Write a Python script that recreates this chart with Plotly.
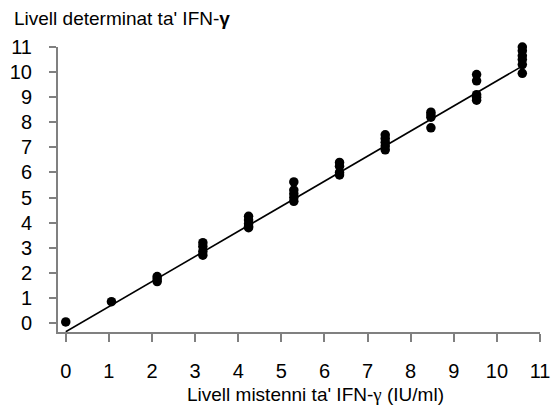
import plotly.graph_objects as go

expected_levels = [0.0, 1.06, 2.12, 3.18, 4.24, 5.29, 6.35, 7.41, 8.47, 9.53, 10.59]
measured_values = [
    [0.04],
    [0.85],
    [1.85, 1.75, 1.65],
    [3.2, 3.05, 2.85, 2.7],
    [4.25, 4.1, 3.95, 3.85, 3.8],
    [5.62, 5.3, 5.15, 5.0, 4.85],
    [6.4, 6.25, 6.0, 5.9],
    [7.5, 7.35, 7.2, 7.05, 6.9],
    [8.4, 8.3, 8.2, 7.78],
    [9.9, 9.65, 9.1, 9.0, 8.88],
    [11.0, 10.85, 10.65, 10.5, 10.3, 9.95],
]
fit_x = [0.0, 10.55]
fit_y = [-0.35, 10.2]

x_ticks = list(range(0, 12))
y_ticks = list(range(0, 12))

xs, ys = [], []
for lvl, vals in zip(expected_levels, measured_values):
    for v in vals:
        xs.append(lvl)
        ys.append(v)

FONT = "Liberation Sans, Arial, sans-serif"
AX = "#808080"

fig = go.Figure()
fig.add_trace(go.Scatter(x=fit_x, y=fit_y, mode="lines",
                         line=dict(color="black", width=1.6),
                         showlegend=False, hoverinfo="skip", cliponaxis=False))
fig.add_trace(go.Scatter(x=xs, y=ys, mode="markers",
                         marker=dict(color="black", size=9.5, line=dict(width=0)),
                         showlegend=False, cliponaxis=False))

fig.update_layout(
    width=560, height=410,
    margin=dict(l=53, r=10, t=47, b=78),
    paper_bgcolor="white", plot_bgcolor="white",
    font=dict(family=FONT, color="black", size=20),
    xaxis=dict(range=[-0.18, 11], tickvals=x_ticks, ticktext=[str(t) for t in x_ticks],
               showgrid=False, zeroline=False, showline=True, linecolor=AX, linewidth=2,
               ticks="outside", ticklen=8, tickwidth=2, tickcolor=AX,
               tickfont=dict(size=20, family=FONT), ticklabelstandoff=12,
               ticklabeloverflow="allow"),
    yaxis=dict(range=[-0.36, 11], tickvals=y_ticks, ticktext=[str(t) for t in y_ticks],
               showgrid=False, zeroline=False, showline=True, linecolor=AX, linewidth=2,
               ticks="outside", ticklen=7, tickwidth=2, tickcolor=AX,
               tickfont=dict(size=20, family=FONT), ticklabelstandoff=13,
               ticklabeloverflow="allow"),
    annotations=[
        dict(text="Livell determinat ta' IFN-<b>γ</b>", xref="paper", yref="paper",
             x=(6 - 53) / 497, y=1 + (47 - 6) / 285, xanchor="left", yanchor="top",
             showarrow=False, font=dict(size=19, family=FONT)),
        dict(text="Livell mistenni ta' IFN-<span style='font-family:Liberation Serif'>γ</span> (IU/ml)",
             xref="paper", yref="paper",
             x=(318 - 53) / 497, y=-(382 - 332) / 285, xanchor="center", yanchor="top",
             showarrow=False, font=dict(size=19, family=FONT)),
    ],
)

fig.write_html("out.html")
